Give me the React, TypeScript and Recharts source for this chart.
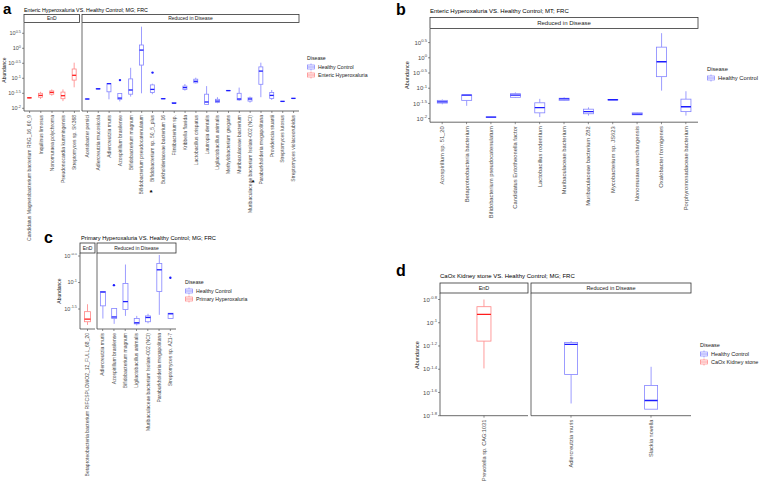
import React from 'react';
import { ComposedChart, Bar, Line, XAxis, YAxis } from 'recharts';

// ---------- DATA (log10 abundance; stats = [min, q1, median, q3, max]) ----------
const aEndNames = [
  'Candidatus Magnetobacterium bacterium RBG_16_60_9',
  'Inquilinus limosus',
  'Nonomuraea polychroma',
  'Pseudonocardia kunmingensis',
  'Streptomyces sp. SK368',
];
const aEndStats = [
  [-1.67, -1.66, -1.65, -1.64, -1.63],
  [-1.69, -1.63, -1.57, -1.5, -1.45],
  [-1.58, -1.53, -1.47, -1.42, -1.37],
  [-1.76, -1.68, -1.58, -1.46, -1.37],
  [-1.3, -1.06, -0.9, -0.69, -0.48],
];
const aEndOut: (number | null)[] = [null, null, null, null, null];

const aRedNames = [
  'Acetobacter persici',
  'Adlercreutzia mucosicola',
  'Adlercreutzia muris',
  'Azospirillum brasilense',
  'Bifidobacterium magnum',
  'Bifidobacterium pseudocatenulatum',
  'Bifidobacterium sp. 50_5_plus',
  'Burkholderiaceae bacterium 16',
  'Flintibacterium sp.',
  'Kribbella flavida',
  'Lactobacillus crispatus',
  'Lautropia dentalis',
  'Ligilactobacillus animalis',
  'Methylobacterium gregans',
  'Muribaculaceae bacterium',
  'Muribaculaceae bacterium Isolate-002 (NCI)',
  'Paraburkholderia megapolitana',
  'Providencia stuartii',
  'Streptomyces lutosus',
  'Streptomyces violaceorubidus',
];
const aRedStats = [
  [-1.7, -1.695, -1.69, -1.685, -1.68],
  [-1.37, -1.36, -1.35, -1.34, -1.33],
  [-1.7, -1.45, -1.18, -1.17, -1.17],
  [-1.77, -1.7, -1.66, -1.51, -1.51],
  [-1.61, -1.53, -1.39, -1.02, -0.65],
  [-1.5, -0.56, -0.06, 0.11, 0.72],
  [-1.53, -1.47, -1.37, -1.22, -1.18],
  [-1.69, -1.685, -1.68, -1.675, -1.67],
  [-1.85, -1.84, -1.83, -1.81, -1.8],
  [-1.41, -1.37, -1.31, -1.26, -1.19],
  [-1.17, -1.15, -1.1, -1.03, -0.98],
  [-1.87, -1.87, -1.79, -1.53, -1.26],
  [-1.83, -1.81, -1.76, -1.7, -1.63],
  [-1.42, -1.415, -1.41, -1.405, -1.4],
  [-1.75, -1.72, -1.69, -1.5, -1.31],
  [-1.81, -1.76, -1.69, -1.65, -1.61],
  [-1.63, -1.2, -0.76, -0.62, -0.48],
  [-1.72, -1.67, -1.57, -1.47, -1.39],
  [-1.78, -1.775, -1.77, -1.765, -1.76],
  [-1.68, -1.675, -1.67, -1.665, -1.66],
];
const aRedOut: (number | null)[] = [
  null, null, null, -1.06, null, null, -0.81, null, null, null,
  null, null, null, null, null, null, null, null, null, null,
];

const bNames = [
  'Azospirillum sp. 51_20',
  'Betaproteobacteria bacterium',
  'Bifidobacterium pseudocatenulatum',
  'Candidatus Entotheonella factor',
  'Lactobacillus rodentium',
  'Muribaculaceae bacterium',
  'Muribaculaceae bacterium Z82',
  'Mycobacterium sp. JS623',
  'Nonomuraea wenchangensis',
  'Oxalobacter formigenes',
  'Porphyromonadaceae bacterium',
];
const bStats = [
  [-1.53, -1.49, -1.45, -1.4, -1.37],
  [-1.58, -1.4, -1.23, -1.22, -1.22],
  [-1.96, -1.955, -1.95, -1.945, -1.94],
  [-1.32, -1.3, -1.23, -1.18, -1.14],
  [-1.95, -1.81, -1.64, -1.48, -1.35],
  [-1.42, -1.4, -1.35, -1.33, -1.3],
  [-1.9, -1.84, -1.77, -1.69, -1.63],
  [-1.39, -1.385, -1.38, -1.375, -1.37],
  [-1.88, -1.875, -1.855, -1.81, -1.8],
  [-1.08, -0.62, -0.13, 0.35, 0.81],
  [-1.9, -1.77, -1.61, -1.36, -1.1],
];
const bOut: (number | null)[] = [null, null, null, null, null, null, null, null, null, null, null];

const cEndNames = ['Betaproteobacteria bacterium RIFCSPLOWO2_12_FULL_68_20'];
const cEndStats = [[-1.8, -1.74, -1.69, -1.55, -1.41]];
const cEndOut: (number | null)[] = [null];

const cRedNames = [
  'Adlercreutzia muris',
  'Azospirillum brasilense',
  'Bifidobacterium magnum',
  'Ligilactobacillus animalis',
  'Muribaculaceae bacterium Isolate-002 (NCI)',
  'Paraburkholderia megapolitana',
  'Streptomyces sp. AZ1-7',
];
const cRedStats = [
  [-1.68, -1.44, -1.18, -1.17, -1.17],
  [-1.78, -1.68, -1.65, -1.49, -1.49],
  [-1.63, -1.51, -1.36, -1.02, -0.66],
  [-1.81, -1.78, -1.76, -1.68, -1.63],
  [-1.77, -1.74, -1.66, -1.63, -1.59],
  [-1.61, -1.17, -0.76, -0.64, -0.48],
  [-1.68, -1.68, -1.59, -1.58, -1.58],
];
const cRedOut: (number | null)[] = [null, -1.05, null, null, null, null, -0.91];

const dEndNames = ['Prevotella sp. CAG:1031'];
const dEndStats = [[-1.393, -1.158, -0.928, -0.862, -0.8]];
const dEndOut: (number | null)[] = [null];

const dRedNames = ['Adlercreutzia muris', 'Slackia novella'];
const dRedStats = [
  [-1.695, -1.445, -1.186, -1.169, -1.158],
  [-1.744, -1.744, -1.669, -1.54, -1.379],
];
const dRedOut: (number | null)[] = [null, null];

const ticksAB = [-2, -1.5, -1, -0.5, 0, 0.5];
const ticksC = [-1.5, -1, -0.5];
const ticksD = [-1.8, -1.6, -1.4, -1.2, -1, -0.8];

// ---------- STYLE ----------
const FONT = 'Liberation Sans, Arial, Helvetica, sans-serif';
const BLUE = { box: '#8484ff', med: '#1c1cff' };
const RED = { box: '#ff8484', med: '#ff1c1c' };
const AXIS = '#444';
const TXT = '#4d4d4d';

function buildRows(names: string[], stats: number[][], out: (number | null)[]) {
  return names.map((n, i) => ({
    name: n,
    min: stats[i][0],
    q1: stats[i][1],
    med: stats[i][2],
    q3: stats[i][3],
    max: stats[i][4],
    out: out[i],
  }));
}

const BoxShape = (props: any) => {
  const { x, y, width, height, payload, col } = props;
  const top = Math.min(y, y + height);
  const h = Math.abs(height);
  const span = payload.max - payload.min;
  const pos = (v: number) => (span > 0 ? top + ((payload.max - v) / span) * h : top);
  const cx = x + width / 2;
  const yq3 = pos(payload.q3);
  const yq1 = pos(payload.q1);
  const ym = pos(payload.med);
  return (
    <g>
      <line x1={cx} x2={cx} y1={pos(payload.max)} y2={yq3} stroke={col.box} strokeWidth={0.8} />
      <line x1={cx} x2={cx} y1={yq1} y2={pos(payload.min)} stroke={col.box} strokeWidth={0.8} />
      <rect x={x} y={yq3} width={width} height={Math.max(yq1 - yq3, 0.01)} fill="#fff" stroke={col.box} strokeWidth={0.8} />
      <line x1={x} x2={x + width} y1={ym} y2={ym} stroke={col.med} strokeWidth={1.3} />
    </g>
  );
};

const fmtExp = (v: number) => String(Number(v.toFixed(2)));

const YTick = (props: any) => {
  const { x, y, payload, fs } = props;
  return (
    <text x={x} y={y} dy={fs * 0.35} textAnchor="end" fontSize={fs} fill={TXT} fontFamily={FONT}>
      <tspan>10</tspan>
      <tspan dy={-fs * 0.45} fontSize={fs * 0.7}>{fmtExp(payload.value)}</tspan>
    </text>
  );
};

const XTick = (props: any) => {
  const { x, y, payload, fs } = props;
  return (
    <g transform={`translate(${x},${y})`}>
      <text transform="rotate(-90)" x={-1} y={0} dy={fs * 0.35} textAnchor="end" fontSize={fs} fill={TXT} fontFamily={FONT}>
        {payload.value}
      </text>
    </g>
  );
};

type FacetProps = {
  left: number; top: number; width: number; height: number;
  yWidth: number; xHeight: number; showTicks: boolean;
  rows: any[]; col: { box: string; med: string };
  domain: [number, number]; ticks: number[]; fs: number; yfs: number; gap: string;
};

const Facet = (p: FacetProps) => (
  <div style={{ position: 'absolute', left: p.left, top: p.top }}>
    <ComposedChart width={p.width} height={p.height} data={p.rows}
      margin={{ top: 0, right: 0, bottom: 0, left: 0 }} barCategoryGap={p.gap}>
      <XAxis dataKey="name" type="category" interval={0} height={p.xHeight}
        axisLine={{ stroke: AXIS, strokeWidth: 0.8 }} tickLine={{ stroke: AXIS, strokeWidth: 0.6 }}
        tickSize={2} tickMargin={1}
        tick={(tp: any) => <XTick {...tp} fs={p.fs} />} />
      <YAxis type="number" domain={p.domain} allowDataOverflow ticks={p.ticks} width={p.yWidth} interval={0}
        axisLine={{ stroke: AXIS, strokeWidth: 0.8 }}
        tickLine={p.showTicks ? { stroke: AXIS, strokeWidth: 0.6 } : false}
        tickSize={p.showTicks ? 2 : 0} tickMargin={1}
        tick={p.showTicks ? (tp: any) => <YTick {...tp} fs={p.yfs} /> : false} />
      <Bar dataKey={(d: any) => [d.min, d.max]} isAnimationActive={false} fill={p.col.box}
        shape={(sp: any) => <BoxShape {...sp} col={p.col} />} />
      <Line dataKey="out" stroke="none" isAnimationActive={false} activeDot={false} legendType="none"
        dot={(dp: any) => (dp.payload && dp.payload.out != null && typeof dp.cy === 'number'
          ? <circle key={dp.index} cx={dp.cx} cy={dp.cy} r={1.2} fill={p.col.med} />
          : <g key={dp.index} />)} />
    </ComposedChart>
  </div>
);

const Strip = ({ x1, x2, y1, y2, label, fs }: any) => (
  <g>
    <rect x={x1} y={y1} width={x2 - x1} height={y2 - y1} fill="#fff" stroke="#333" strokeWidth={0.8} />
    <text x={(x1 + x2) / 2} y={(y1 + y2) / 2} dy={fs * 0.35} textAnchor="middle" fontSize={fs} fill="#1a1a1a" fontFamily={FONT}>{label}</text>
  </g>
);

const LegendKey = ({ x, y, col }: any) => (
  <g>
    <line x1={x + 4} x2={x + 4} y1={y - 3.5} y2={y + 3.5} stroke={col.box} strokeWidth={0.7} />
    <rect x={x + 0.5} y={y - 2} width={7} height={4} fill="#fff" stroke={col.box} strokeWidth={0.7} />
    <line x1={x + 0.5} x2={x + 7.5} y1={y} y2={y} stroke={col.box} strokeWidth={0.9} />
  </g>
);

const Legend = ({ x, y, items, fs }: any) => (
  <g fontFamily={FONT}>
    <text x={x} y={y} fontSize={fs} fill="#1a1a1a">Disease</text>
    {items.map((it: any, i: number) => (
      <g key={i}>
        <LegendKey x={x} y={y + 7 + i * 8} col={it.col} />
        <text x={x + 11} y={y + 7 + i * 8} dy={fs * 0.35} fontSize={fs} fill="#1a1a1a">{it.label}</text>
      </g>
    ))}
  </g>
);

const YTitle = ({ x, y, fs }: any) => (
  <text transform={`translate(${x},${y}) rotate(-90)`} textAnchor="middle" fontSize={fs} fill="#1a1a1a" fontFamily={FONT}>Abundance</text>
);

export default function App() {
  const aDom: [number, number] = [-2.09, 0.843];
  const bDom: [number, number] = [-2.118, 0.947];
  const cDom: [number, number] = [-1.877, -0.443];
  const dDom: [number, number] = [-1.8, -0.744];
  return (
    <div style={{ position: 'absolute', left: 0, top: 0, width: 761, height: 491, background: '#fff', overflow: 'hidden' }}>
      {/* Panel a */}
      <Facet left={0} top={23} width={80} height={220} yWidth={24} xHeight={132} showTicks
        rows={buildRows(aEndNames, aEndStats, aEndOut)} col={RED} domain={aDom} ticks={ticksAB} fs={5} yfs={5.5} gap="30%" />
      <Facet left={81} top={23} width={218} height={220} yWidth={1} xHeight={132} showTicks={false}
        rows={buildRows(aRedNames, aRedStats, aRedOut)} col={BLUE} domain={aDom} ticks={ticksAB} fs={5} yfs={5.5} gap="30%" />
      {/* Panel b */}
      <Facet left={400} top={28.5} width={298} height={200} yWidth={30} xHeight={106.8} showTicks
        rows={buildRows(bNames, bStats, bOut)} col={BLUE} domain={bDom} ticks={ticksAB} fs={5.8} yfs={6} gap="30%" />
      {/* Panel c */}
      <Facet left={55} top={253} width={40} height={225} yWidth={25} xHeight={149} showTicks
        rows={buildRows(cEndNames, cEndStats, cEndOut)} col={RED} domain={cDom} ticks={ticksC} fs={5} yfs={5.5} gap="30%" />
      <Facet left={96} top={253} width={80} height={225} yWidth={1} xHeight={149} showTicks={false}
        rows={buildRows(cRedNames, cRedStats, cRedOut)} col={BLUE} domain={cDom} ticks={ticksC} fs={5} yfs={5.5} gap="30%" />
      {/* Panel d */}
      <Facet left={410} top={293} width={118} height={198} yWidth={30} xHeight={75.3} showTicks
        rows={buildRows(dEndNames, dEndStats, dEndOut)} col={RED} domain={dDom} ticks={ticksD} fs={5.6} yfs={6} gap="42%" />
      <Facet left={530} top={293} width={161} height={198} yWidth={1} xHeight={75.3} showTicks={false}
        rows={buildRows(dRedNames, dRedStats, dRedOut)} col={BLUE} domain={dDom} ticks={ticksD} fs={5.6} yfs={6} gap="42%" />

      <svg width={761} height={491} style={{ position: 'absolute', left: 0, top: 0, pointerEvents: 'none' }}>
        {/* Panel a */}
        <text x={3} y={13.5} fontSize={15} fontWeight="bold" fontFamily={FONT} fill="#000">a</text>
        <text x={24} y={12} fontSize={5.3} fontFamily={FONT} fill="#000">Enteric Hyperoxaluria VS. Healthy Control; MG; FRC</text>
        <Strip x1={24} x2={79.5} y1={14.5} y2={22.5} label="EnD" fs={5} />
        <Strip x1={82} x2={299} y1={14.5} y2={22.5} label="Reduced in Disease" fs={5} />
        <YTitle x={5.5} y={70} fs={5} />
        <text x={151} y={195} fontSize={8} fontWeight="bold" textAnchor="middle" fontFamily={FONT} fill="#000">*</text>
        <text x={253} y={185} fontSize={8} fontWeight="bold" textAnchor="middle" fontFamily={FONT} fill="#000">*</text>
        <Legend x={307} y={60} fs={5.2} items={[{ label: 'Healthy Control', col: BLUE }, { label: 'Enteric Hyperoxaluria', col: RED }]} />

        {/* Panel b */}
        <text x={396} y={15} fontSize={16} fontWeight="bold" fontFamily={FONT} fill="#000">b</text>
        <text x={430} y={13} fontSize={6} fontFamily={FONT} fill="#000">Enteric Hyperoxaluria VS. Healthy Control; MT; FRC</text>
        <Strip x1={430} x2={698} y1={17.5} y2={28.5} label="Reduced in Disease" fs={6} />
        <YTitle x={409} y={75} fs={5.5} />
        <Legend x={707} y={71} fs={5.8} items={[{ label: 'Healthy Control', col: BLUE }]} />

        {/* Panel c */}
        <text x={44} y={243} fontSize={16} fontWeight="bold" fontFamily={FONT} fill="#000">c</text>
        <text x={81} y={240} fontSize={5.7} fontFamily={FONT} fill="#000">Primary Hyperoxaluria VS. Healthy Control; MG; FRC</text>
        <Strip x1={80} x2={95} y1={243} y2={253} label="EnD" fs={5} />
        <Strip x1={97} x2={176} y1={243} y2={253} label="Reduced in Disease" fs={5} />
        <YTitle x={61} y={291} fs={5} />
        <Legend x={185} y={284} fs={5.2} items={[{ label: 'Healthy Control', col: BLUE }, { label: 'Primary Hyperoxaluria', col: RED }]} />

        {/* Panel d */}
        <text x={396} y={276} fontSize={16} fontWeight="bold" fontFamily={FONT} fill="#000">d</text>
        <text x={440} y={278} fontSize={6} fontFamily={FONT} fill="#000">CaOx Kidney stone VS. Healthy Control; MG; FRC</text>
        <Strip x1={440} x2={528} y1={283} y2={293} label="EnD" fs={5.5} />
        <Strip x1={531} x2={691} y1={283} y2={293} label="Reduced in Disease" fs={5.5} />
        <YTitle x={419} y={355} fs={5.5} />
        <Legend x={700} y={347} fs={5.5} items={[{ label: 'Healthy Control', col: BLUE }, { label: 'CaOx Kidney stone', col: RED }]} />
      </svg>
    </div>
  );
}
